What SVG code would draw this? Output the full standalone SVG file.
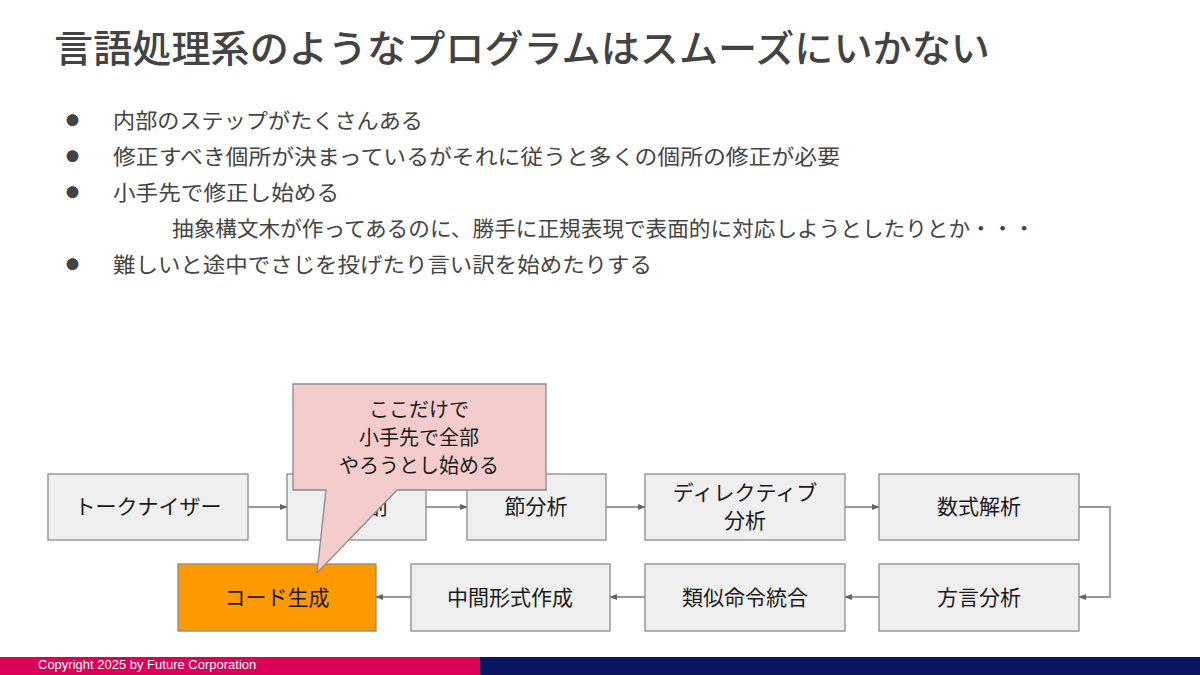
<svg xmlns="http://www.w3.org/2000/svg" width="1200" height="675" viewBox="0 0 1200 675">
<style>
text{font-family:"Noto Sans CJK JP","Noto Sans",sans-serif;}
.title{font-size:38px;fill:#434343;font-weight:500;}
.bl{font-size:21px;fill:#434343;}
.dot{font-size:13px;fill:#434343;}
.box{fill:#efefef;stroke:#8a8a8a;stroke-width:1.3;}
.lbl{font-size:21px;fill:#1a1a1a;text-anchor:middle;}
.cl{font-size:20px;fill:#1a1a1a;text-anchor:middle;}
.con{fill:none;stroke:#777;stroke-width:1.3;}
</style>
<defs>
<marker id="ah" markerWidth="8" markerHeight="6" refX="7" refY="3" orient="auto" markerUnits="userSpaceOnUse">
<path d="M0,0 L8,3 L0,6 Z" fill="#666"/>
</marker>
</defs>
<rect width="1200" height="675" fill="#fff"/>
<text class="title" x="54" y="62" textLength="936" lengthAdjust="spacingAndGlyphs">言語処理系のようなプログラムはスムーズにいかない</text>
<g id="bullets">
<text class="dot" x="66" y="125">●</text>
<text class="bl" x="113" y="128" textLength="310" lengthAdjust="spacingAndGlyphs">内部のステップがたくさんある</text>
<text class="dot" x="66" y="161">●</text>
<text class="bl" x="113" y="164" textLength="727" lengthAdjust="spacingAndGlyphs">修正すべき個所が決まっているがそれに従うと多くの個所の修正が必要</text>
<text class="dot" x="66" y="197">●</text>
<text class="bl" x="113" y="200" textLength="226" lengthAdjust="spacingAndGlyphs">小手先で修正し始める</text>
<text class="bl" x="172" y="236" textLength="863" lengthAdjust="spacingAndGlyphs">抽象構文木が作ってあるのに、勝手に正規表現で表面的に対応しようとしたりとか・・・</text>
<text class="dot" x="66" y="269">●</text>
<text class="bl" x="113" y="272" textLength="539" lengthAdjust="spacingAndGlyphs">難しいと途中でさじを投げたり言い訳を始めたりする</text>
</g>
<g id="connectors">
<line class="con" x1="248" y1="507" x2="287" y2="507" marker-end="url(#ah)"/>
<line class="con" x1="426" y1="507" x2="467" y2="507" marker-end="url(#ah)"/>
<line class="con" x1="606" y1="507" x2="645" y2="507" marker-end="url(#ah)"/>
<line class="con" x1="845" y1="507" x2="879" y2="507" marker-end="url(#ah)"/>
<path class="con" d="M1079,507 L1110,507 L1110,597 L1079,597" marker-end="url(#ah)"/>
<line class="con" x1="879" y1="597" x2="845" y2="597" marker-end="url(#ah)"/>
<line class="con" x1="645" y1="597" x2="610" y2="597" marker-end="url(#ah)"/>
<line class="con" x1="411" y1="597" x2="376" y2="597" marker-end="url(#ah)"/>
</g>
<g id="n1"><rect class="box" x="48" y="474" width="200" height="66"/><text class="lbl" x="148" y="514">トークナイザー</text></g>
<g id="n2"><rect class="box" x="287" y="474" width="139" height="66"/><text class="lbl" x="356" y="514">節分割</text></g>
<g id="n3"><rect class="box" x="467" y="474" width="139" height="66"/><text class="lbl" x="536" y="514">節分析</text></g>
<g id="n4"><rect class="box" x="645" y="474" width="200" height="66"/><text class="lbl" x="745" y="500">ディレクティブ</text><text class="lbl" x="745" y="528">分析</text></g>
<g id="n5"><rect class="box" x="879" y="474" width="200" height="66"/><text class="lbl" x="979" y="514">数式解析</text></g>
<g id="n6"><rect class="box" x="879" y="564" width="200" height="67"/><text class="lbl" x="979" y="605">方言分析</text></g>
<g id="n7"><rect class="box" x="645" y="564" width="200" height="67"/><text class="lbl" x="745" y="605">類似命令統合</text></g>
<g id="n8"><rect class="box" x="411" y="564" width="199" height="67"/><text class="lbl" x="510" y="605">中間形式作成</text></g>
<g id="n9"><rect x="178" y="564" width="198" height="67" fill="#ff9900" stroke="#8a8a8a" stroke-width="1.3"/><text class="lbl" x="277" y="605">コード生成</text></g>
<g id="callout">
<path d="M293,384 L546,384 L546,490 L397,490 L317,573 L326,490 L293,490 Z" fill="#f4cccc" stroke="#8a8a8a" stroke-width="1.3"/>
<text class="cl" x="419" y="417">ここだけで</text>
<text class="cl" x="419" y="445">小手先で全部</text>
<text class="cl" x="419" y="473">やろうとし始める</text>
</g>
<g id="footer">
<rect x="0" y="657" width="480" height="18" fill="#dc0058"/>
<rect x="480" y="657" width="720" height="18" fill="#0c1560"/>
<text x="38" y="669" font-size="13" fill="#fff" style="font-family:'Liberation Sans',Arial,sans-serif">Copyright 2025 by Future Corporation</text>
</g>
</svg>
